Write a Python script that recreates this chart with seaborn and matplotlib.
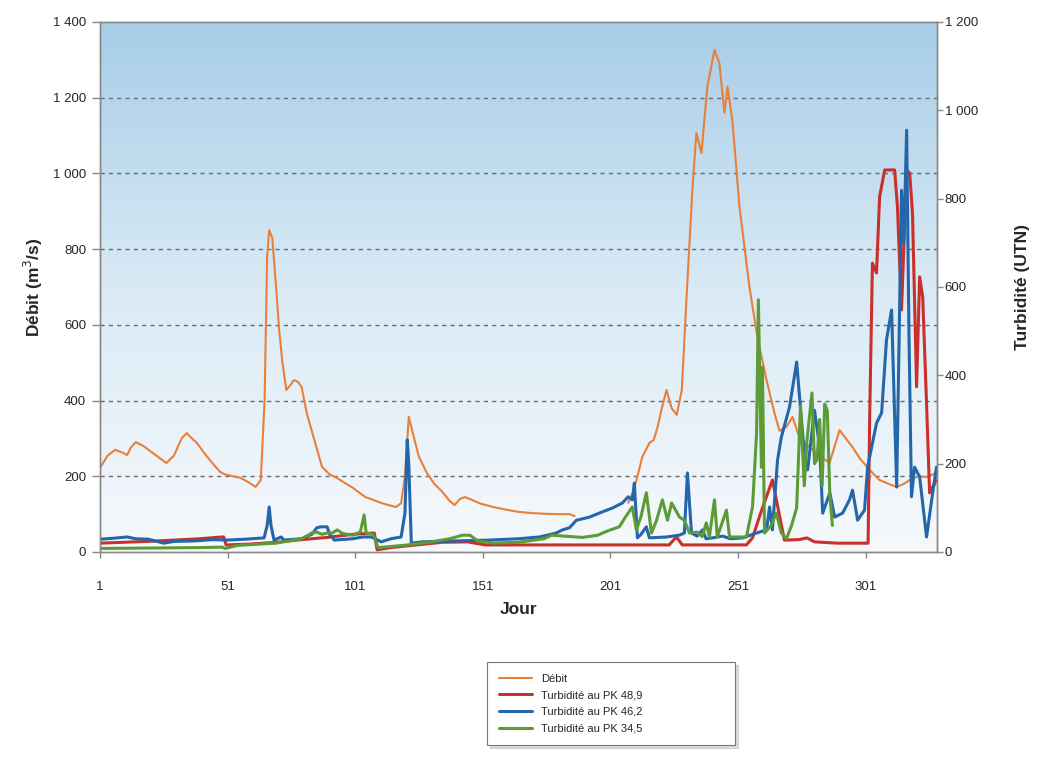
import numpy as np
import pandas as pd
import matplotlib
matplotlib.use('Agg')
import matplotlib.pyplot as plt
from matplotlib.colors import LinearSegmentedColormap
from matplotlib.ticker import FuncFormatter
import seaborn as sns

# Débit (m3/s), two segments (gap between days 187 and 208)
debit_jour_1 = [1, 4, 7, 10, 11.6, 13, 15, 18, 21, 24, 27, 30, 33, 35, 37, 39, 42, 45, 48, 50,
                53, 56, 59, 62, 64, 65.5, 66.5, 67.3, 68.5, 70, 71.2, 72.5, 74, 75.5, 77, 78.5,
                80, 82, 85, 88, 91, 94, 97, 100, 103, 105, 108, 111, 114, 117, 119, 120.5, 122,
                123, 124.5, 126, 129, 132, 135, 138, 140, 142, 144, 146, 150, 155, 160, 165,
                170, 175, 180, 185, 187]
debit_val_1 = [222, 255, 270, 262, 256, 275, 290, 280, 265, 250, 235, 255, 300, 314, 300, 288,
               260, 235, 212, 205, 200, 196, 185, 172, 190, 400, 780, 850, 830, 700, 587, 500,
               428, 440, 454, 450, 436, 367, 296, 225, 205, 195, 182, 170, 155, 145, 138, 130,
               124, 119, 129, 200, 357, 330, 290, 251, 210, 180, 160, 135, 124, 140, 145, 140,
               128, 119, 112, 106, 103, 101, 100, 100, 95]
debit_jour_2 = [208, 210, 212, 213.5, 216.3, 218, 219.5, 221, 223, 225, 227, 229, 230.8, 233.2,
                234.7, 236.7, 239, 241.8, 243.7, 245.7, 246.9, 248.8, 251.6, 255.5, 258.6,
                262.2, 265.3, 267.3, 270, 272.4, 275, 279, 283, 286.9, 290.8, 295.9, 299,
                302.6, 306.5, 310, 313.2, 316, 319.4, 322, 324.9, 328.8]
debit_val_2 = [130, 160, 210, 251, 288, 296, 330, 375, 428, 380, 362, 428, 666, 964, 1107, 1054,
               1229, 1326, 1292, 1160, 1229, 1141, 912, 700, 568, 454, 367, 320, 331, 357, 304,
               277, 255, 235, 322, 277, 245, 217, 190, 180, 172, 180, 195, 200, 198, 209]

# Turbidité au PK 48,9 (UTN)
pk489_jour = [1, 10, 20, 30, 40, 48.8, 49.5, 50.4, 60, 70, 80, 90, 100, 108.5, 109.6, 115, 125,
              135, 145, 152, 170, 190, 210, 224, 226.9, 229.2, 240, 254.3, 256.7, 260, 264.5,
              269.2, 275, 278, 281, 290, 302, 302.6, 303.7, 305.3, 306.5, 308.5, 312.4, 313.5,
              315.1, 317.1, 318.3, 319.4, 321, 322.2, 323.4, 324.9, 326.1, 328.8]
pk489_val = [20, 22, 24, 27, 30, 34, 34, 16, 18, 22, 28, 33, 40, 43, 5, 10, 16, 22, 23, 16, 16,
             16, 16, 16, 34, 16, 16, 16, 32, 90, 163, 27, 28, 32, 23, 20, 20, 299, 654, 632, 804,
             865, 865, 781, 548, 865, 858, 767, 374, 623, 577, 337, 134, 163]

# Turbidité au PK 46,2 (UTN)
pk462_jour = [1, 6, 11.6, 15, 20, 26, 30, 37.9, 45, 50.8, 58, 65.3, 66.5, 67.3, 68, 69.2, 72,
              73, 80, 84, 86, 87.7, 90, 91, 92.8, 100, 104, 107.3, 111.2, 115, 119, 120.5,
              121.4, 122, 123, 127.3, 140, 153.5, 165, 173.2, 179.8, 182.2, 185, 187.7, 190,
              192.8, 197.9, 202, 205.7, 208, 209.6, 210.4, 211.6, 213, 215.1, 216.3, 223, 228,
              230, 231.2, 232.8, 235, 237.1, 238.5, 241, 245, 248, 252.8, 258.3, 262.2, 263.4,
              264.5, 266.5, 268, 271.2, 274, 277.1, 278.3, 281, 283, 284.2, 287, 288.9, 292,
              294.7, 295.9, 297.9, 300.6, 301.8, 305.3, 307.3, 309.2, 311.2, 313.2, 315.1, 316,
              317.1, 318, 319, 320.2, 322.2, 324.9, 327.3, 328.8]
pk462_val = [29, 31, 34, 30, 29, 20, 24, 25, 28, 27, 29, 32, 60, 102, 60, 27, 34, 27, 30, 40,
             55, 57, 57, 40, 27, 30, 34, 34, 23, 30, 34, 88, 254, 200, 20, 23, 25, 27, 30, 34,
             43, 50, 55, 72, 75, 79, 91, 100, 111, 125, 118, 156, 32, 40, 57, 32, 34, 38, 43,
             179, 43, 36, 50, 30, 32, 36, 30, 32, 43, 50, 102, 50, 208, 260, 328, 430, 215, 186,
             321, 238, 88, 134, 79, 88, 118, 140, 72, 95, 192, 292, 315, 480, 548, 147, 819, 700,
             955, 500, 125, 192, 170, 34, 134, 192]

# Turbidité au PK 34,5 (UTN)
pk345_jour = [1, 20, 40, 49, 50, 55, 70, 80, 84, 86, 88, 90, 92, 94, 96, 100, 103, 104.5, 105.3,
              108, 110, 120, 130, 138, 143, 146, 149, 155, 165, 175, 178, 183, 190, 196, 200,
              204.5, 207, 209.6, 211.2, 213, 215.1, 217.1, 219, 221.4, 223.4, 225, 228.1, 230,
              232, 235, 237, 238.6, 239.8, 241.8, 242.9, 246.5, 247.7, 254.3, 256.7, 258.3, 259,
              260.2, 260.6, 261.4, 264, 266, 268, 270, 272, 274, 275.5, 277, 278, 280, 281, 282,
              283, 284, 285, 286, 287, 288]
pk345_val = [8, 9, 10, 11, 8, 15, 20, 30, 43, 45, 40, 43, 43, 50, 42, 38, 45, 84, 43, 40, 10,
             15, 22, 30, 38, 38, 25, 20, 22, 30, 38, 36, 33, 38, 48, 57, 80, 102, 50, 80, 134,
             43, 70, 118, 72, 111, 79, 72, 43, 45, 35, 66, 34, 118, 34, 95, 34, 34, 102, 269, 571,
             192, 419, 43, 60, 88, 43, 30, 60, 100, 330, 150, 250, 360, 200, 210, 300, 150, 335,
             320, 130, 60]

jour_ticks = [1, 51, 101, 151, 201, 251, 301]

c_debit = '#E8803A'
c_489 = '#C9302B'
c_462 = '#2466AA'
c_345 = '#5C9B35'

sns.set_theme(style='white')
plt.rcParams['font.family'] = ['Liberation Sans', 'DejaVu Sans']

fig = plt.figure(figsize=(10.53, 7.57), dpi=100)
ax = fig.add_axes([100 / 1053, 1 - 552 / 757, 837 / 1053, 530 / 757])
ax2 = ax.twinx()

# gradient background
grad = LinearSegmentedColormap.from_list('bg', ['#f6f9fc', '#d9eaf5', '#a7cde8'])
ax.imshow(np.linspace(0, 1, 256).reshape(-1, 1), cmap=grad, origin='lower', aspect='auto',
          extent=[0, 1, 0, 1], transform=ax.transAxes, zorder=0)

thou = FuncFormatter(lambda v, p: f"{int(v):,}".replace(',', ' '))

d1 = pd.DataFrame({'jour': debit_jour_1, 'val': debit_val_1})
d2 = pd.DataFrame({'jour': debit_jour_2, 'val': debit_val_2})
sns.lineplot(data=d1, x='jour', y='val', ax=ax, color=c_debit, lw=1.5, label='Débit',
             estimator=None, sort=False, zorder=3)
sns.lineplot(data=d2, x='jour', y='val', ax=ax, color=c_debit, lw=1.5,
             estimator=None, sort=False, zorder=3)

for jours, vals, col, lab in [(pk489_jour, pk489_val, c_489, 'Turbidité au PK 48,9'),
                              (pk462_jour, pk462_val, c_462, 'Turbidité au PK 46,2'),
                              (pk345_jour, pk345_val, c_345, 'Turbidité au PK 34,5')]:
    df = pd.DataFrame({'jour': jours, 'val': vals})
    sns.lineplot(data=df, x='jour', y='val', ax=ax2, color=col, lw=2.2, label=lab,
                 estimator=None, sort=False)

ax.set_xlim(1, 329)
ax.set_ylim(0, 1400)
ax2.set_ylim(0, 1200)
ax.set_xticks(jour_ticks)
ax.set_yticks(range(0, 1401, 200))
ax2.set_yticks(range(0, 1201, 200))
ax.yaxis.set_major_formatter(thou)
ax2.yaxis.set_major_formatter(thou)

for y in range(200, 1201, 200):
    ax.axhline(y, color='#6a6a6a', lw=1, ls=(0, (3, 3)), zorder=1)

for a in (ax, ax2):
    for s in a.spines.values():
        s.set_color('#888888')
        s.set_linewidth(1)
    a.tick_params(direction='out', width=1, color='#888888',
                  labelsize=9.5, labelcolor='#262626')
ax.tick_params(axis='y', left=True, length=6, pad=4)
ax.tick_params(axis='x', bottom=True, length=4, pad=17)
ax2.tick_params(axis='y', right=True, length=4, pad=1.5)

ax.set_xlabel('Jour', fontsize=12.5, fontweight='bold', labelpad=6)
ax.set_ylabel('Débit (m$^3$/s)', fontsize=12.5, fontweight='bold', labelpad=6)
ax2.set_ylabel('Turbidité (UTN)', fontsize=12.5, fontweight='bold', labelpad=27)

h1, l1 = ax.get_legend_handles_labels()
h2, l2 = ax2.get_legend_handles_labels()
if ax.get_legend():
    ax.get_legend().remove()
if ax2.get_legend():
    ax2.get_legend().remove()
leg = fig.legend(h1 + h2, l1 + l2, loc='upper left',
                 bbox_to_anchor=(487 / 1053, 1 - 745 / 757, 248 / 1053, 83 / 757),
                 mode='expand', borderaxespad=0, fontsize=8, frameon=True, fancybox=False,
                 shadow={'color': '#b8b8b8'},
                 borderpad=1.05, labelspacing=0.6, handlelength=3.0, handletextpad=0.8)
leg.get_frame().set_edgecolor('#777777')
leg.get_frame().set_linewidth(0.8)

fig.savefig('out.png', dpi=100)
